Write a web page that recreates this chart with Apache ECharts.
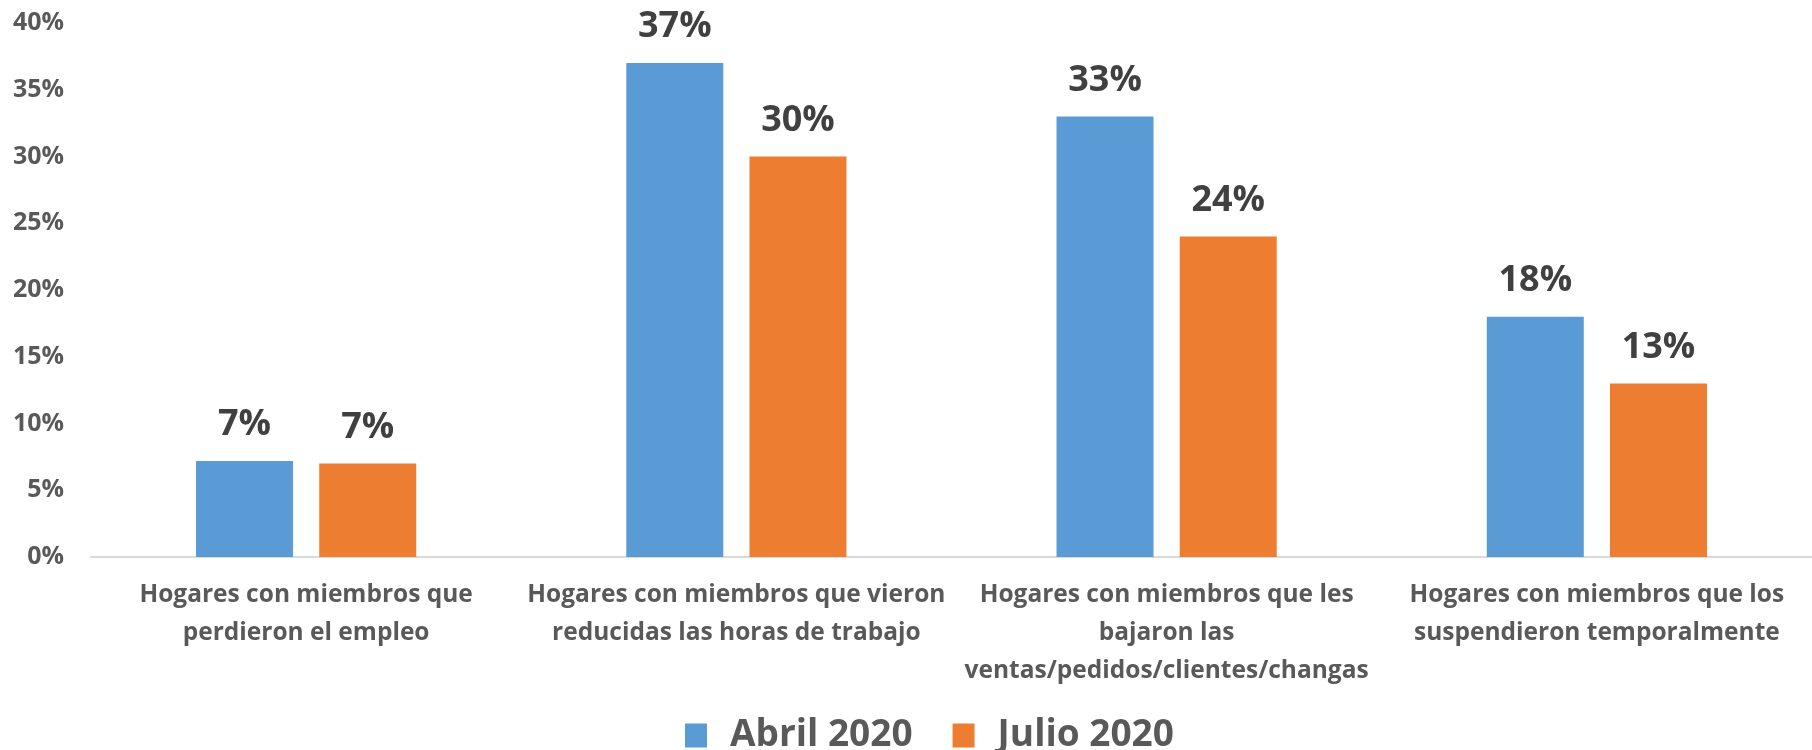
<!DOCTYPE html>
<html>
<head>
<meta charset="utf-8">
<title>Hogares</title>
<script src="https://cdn.jsdelivr.net/npm/echarts@6/dist/echarts.min.js"></script>
<style>
    html, body { margin: 0; padding: 0; background: #fff; }
    #chart { width: 1812px; height: 750px; }
</style>
</head>
<body>
<div id="chart"></div>
<script>
// categorias (con los saltos de linea del original)
var categorias = [
    'Hogares con miembros que\nperdieron el empleo',
    'Hogares con miembros que vieron\nreducidas las horas de trabajo',
    'Hogares con miembros que les\nbajaron las\nventas/pedidos/clientes/changas',
    'Hogares con miembros que los\nsuspendieron temporalmente'
];
var abril2020 = [7.2, 37, 33, 18];
var julio2020 = [7, 30, 24, 13];
var nombres = ['Abril 2020', 'Julio 2020'];

var fuente = '"Open Sans", "Noto Sans", sans-serif';

var chart = echarts.init(document.getElementById('chart'));

function etiqueta() {
    return {
        show: true,
        position: 'top',
        distance: 18,
        fontFamily: fuente,
        fontWeight: 'bold',
        fontSize: 36,
        color: '#404040',
        formatter: function (p) { return Math.round(p.value) + '%'; }
    };
}

var option = {
    backgroundColor: '#fff',
    animation: false,
    grid: {
        left: 91,
        top: 23,
        width: 1732,
        height: 534
    },
    legend: {
        data: nombres,
        top: 712,
        left: 680,
        icon: 'rect',
        itemWidth: 22,
        itemHeight: 24,
        itemGap: 40,
        textStyle: {
            fontFamily: fuente,
            fontWeight: 'bold',
            fontSize: 37,
            color: '#595959',
            padding: [0, 0, 0, 18]
        }
    },
    xAxis: {
        type: 'category',
        data: categorias,
        axisLine: { lineStyle: { color: '#d9d9d9', width: 2 } },
        axisTick: { show: false },
        axisLabel: {
            interval: 0,
            margin: 19,
            fontFamily: fuente,
            fontWeight: 'bold',
            fontSize: 24.5,
            lineHeight: 38,
            color: '#595959',
            align: 'center'
        }
    },
    yAxis: {
        type: 'value',
        min: 0,
        max: 40,
        interval: 5,
        axisLine: { show: false },
        axisTick: { show: false },
        splitLine: { show: false },
        axisLabel: {
            formatter: '{value}%',
            margin: 27,
            fontFamily: fuente,
            fontWeight: 'bold',
            fontSize: 25,
            color: '#595959'
        }
    },
    series: [
        {
            name: nombres[0],
            type: 'bar',
            data: abril2020,
            barWidth: 97,
            barGap: '27%',
            itemStyle: { color: '#5B9BD5' },
            label: etiqueta()
        },
        {
            name: nombres[1],
            type: 'bar',
            data: julio2020,
            barWidth: 97,
            itemStyle: { color: '#ED7D31' },
            label: etiqueta()
        }
    ]
};

chart.setOption(option);

window.onresize = function () {
    chart.resize();
};
</script>
</body>
</html>
